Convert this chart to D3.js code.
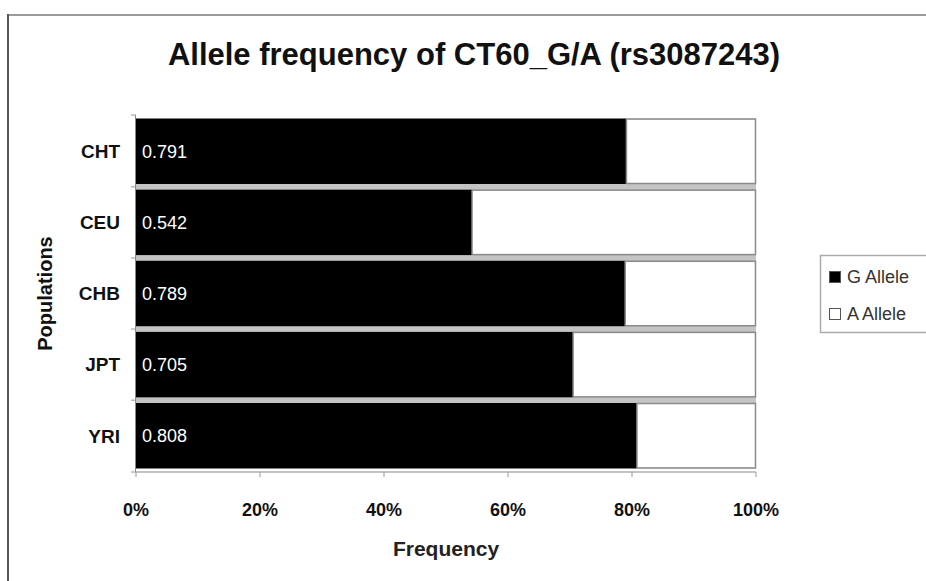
<!DOCTYPE html>
<html>
<head>
<meta charset="utf-8">
<script src="https://cdn.jsdelivr.net/npm/d3@7"></script>
<style>
  body { margin: 0; background: #fff; }
  text { font-family: "Liberation Sans", Arial, sans-serif; }
</style>
</head>
<body>
<div id="chart"></div>
<script>
const populations = ["CHT", "CEU", "CHB", "JPT", "YRI"];
const gAllele = [0.791, 0.542, 0.789, 0.705, 0.808];
const aAllele = [0.209, 0.458, 0.211, 0.295, 0.192];
const xTicks = [0, 0.2, 0.4, 0.6, 0.8, 1.0];
const seriesNames = ["G Allele", "A Allele"];

const W = 926, H = 581;
const margin = { top: 115, right: 170, bottom: 109, left: 136 };

const svg = d3.select("#chart").append("svg")
    .attr("width", W)
    .attr("height", H);

// outer chart frame (cut off on the right and bottom)
svg.append("line").attr("x1", 7).attr("x2", W).attr("y1", 15).attr("y2", 15)
    .style("stroke", "#9a9a9a").style("stroke-width", 2);
svg.append("line").attr("x1", 8).attr("x2", 8).attr("y1", 14).attr("y2", H)
    .style("stroke", "#555").style("stroke-width", 2);

const x = d3.scaleLinear().domain([0, 1]).range([margin.left, 756]);
const y = d3.scaleBand().domain(populations).range([margin.top, 472])
    .paddingInner(0.08).paddingOuter(0.05);

const data = populations.map((p, i) => ({ pop: p, g: gAllele[i], a: aAllele[i] }));

// title
svg.append("text")
    .attr("x", 474).attr("y", 65)
    .attr("text-anchor", "middle")
    .style("font-size", "31px").style("font-weight", "bold")
    .attr("fill", "#111")
    .text("Allele frequency of CT60_G/A (rs3087243)");

// gray between bars
svg.append("rect")
    .attr("x", x(0)).attr("width", x(1) - x(0))
    .attr("y", y(populations[0]))
    .attr("height", y(populations[populations.length - 1]) + y.bandwidth() - y(populations[0]))
    .attr("fill", "#c4c4c4");

const rows = svg.selectAll(".row").data(data).enter().append("g").attr("class", "row");

rows.append("rect")
    .attr("x", x(0))
    .attr("y", d => y(d.pop))
    .attr("width", d => x(d.g) - x(0))
    .attr("height", y.bandwidth())
    .attr("fill", "#000");

rows.append("rect")
    .attr("x", d => x(d.g))
    .attr("y", d => y(d.pop) + 0.5)
    .attr("width", d => x(d.g + d.a) - x(d.g) - 0.5)
    .attr("height", y.bandwidth() - 1)
    .attr("fill", "#fff")
    .style("stroke", "#8a8a8a")
    .style("stroke-width", 1.5);

rows.append("text")
    .attr("x", x(0) + 6)
    .attr("y", d => y(d.pop) + y.bandwidth() / 2)
    .attr("dy", "0.36em")
    .attr("fill", "#fff")
    .style("font-size", "18px")
    .text(d => d.g.toFixed(3));

// y axis
const yAxis = svg.append("g");
yAxis.append("line")
    .attr("x1", x(0) - 0.5).attr("x2", x(0) - 0.5)
    .attr("y1", margin.top).attr("y2", 472)
    .style("stroke", "#888").style("stroke-width", 1);
const step = y.step();
const boundaries = populations.map(p => y(p) - step * y.paddingInner() / 2);
boundaries.push(y(populations[populations.length - 1]) + y.bandwidth() + step * y.paddingInner() / 2);
boundaries[0] = margin.top;
boundaries[boundaries.length - 1] = 472;
yAxis.selectAll(".ytick").data(boundaries).enter().append("line")
    .attr("x1", x(0) - 5).attr("x2", x(0))
    .attr("y1", d => d).attr("y2", d => d)
    .style("stroke", "#999");
yAxis.selectAll(".ylab").data(populations).enter().append("text")
    .attr("x", 120)
    .attr("y", d => y(d) + y.bandwidth() / 2)
    .attr("dy", "0.36em")
    .attr("text-anchor", "end")
    .style("font-size", "19px").style("font-weight", "bold")
    .attr("fill", "#111")
    .text(d => d);

svg.append("text")
    .attr("transform", `translate(54,${(margin.top + 472) / 2}) rotate(-90)`)
    .attr("dy", "-0.1em")
    .attr("text-anchor", "middle")
    .style("font-size", "20px").style("font-weight", "bold")
    .attr("fill", "#111")
    .text("Populations");

// x axis
const xAxis = svg.append("g");
xAxis.append("line")
    .attr("x1", x(0)).attr("x2", x(1))
    .attr("y1", 472).attr("y2", 472)
    .style("stroke", "#888");
xAxis.selectAll(".xtick").data(xTicks).enter().append("line")
    .attr("x1", d => x(d)).attr("x2", d => x(d))
    .attr("y1", 472).attr("y2", 477)
    .style("stroke", "#999");
xAxis.selectAll(".xlab").data(xTicks).enter().append("text")
    .attr("x", d => x(d))
    .attr("y", 510)
    .attr("dy", "0.36em")
    .attr("text-anchor", "middle")
    .style("font-size", "18px").style("font-weight", "bold")
    .attr("fill", "#111")
    .text(d => d3.format(".0%")(d));

svg.append("text")
    .attr("x", 446)
    .attr("y", 548)
    .attr("dy", "0.36em")
    .attr("text-anchor", "middle")
    .style("font-size", "21px").style("font-weight", "bold")
    .attr("fill", "#222")
    .text("Frequency");

// legend
const legend = svg.append("g");
legend.append("rect")
    .attr("x", 820.5).attr("y", 255.5)
    .attr("width", 130).attr("height", 77)
    .attr("fill", "#fff")
    .style("stroke", "#aaa").style("stroke-width", 1.5);
const color = d3.scaleOrdinal().domain(seriesNames).range(["#000", "#fff"]);
const ly = d3.scalePoint().domain(seriesNames).range([277, 314]);
legend.selectAll(".lsw").data(seriesNames).enter().append("rect")
    .attr("x", 829.5)
    .attr("y", d => ly(d) - 5.5)
    .attr("width", 11).attr("height", 11)
    .attr("fill", d => color(d))
    .style("stroke", "#555").style("stroke-width", 1);
legend.selectAll(".ltx").data(seriesNames).enter().append("text")
    .attr("x", 847)
    .attr("y", d => ly(d))
    .attr("dy", "0.36em")
    .style("font-size", "18px")
    .attr("fill", "#333")
    .text(d => d);
</script>
</body>
</html>
